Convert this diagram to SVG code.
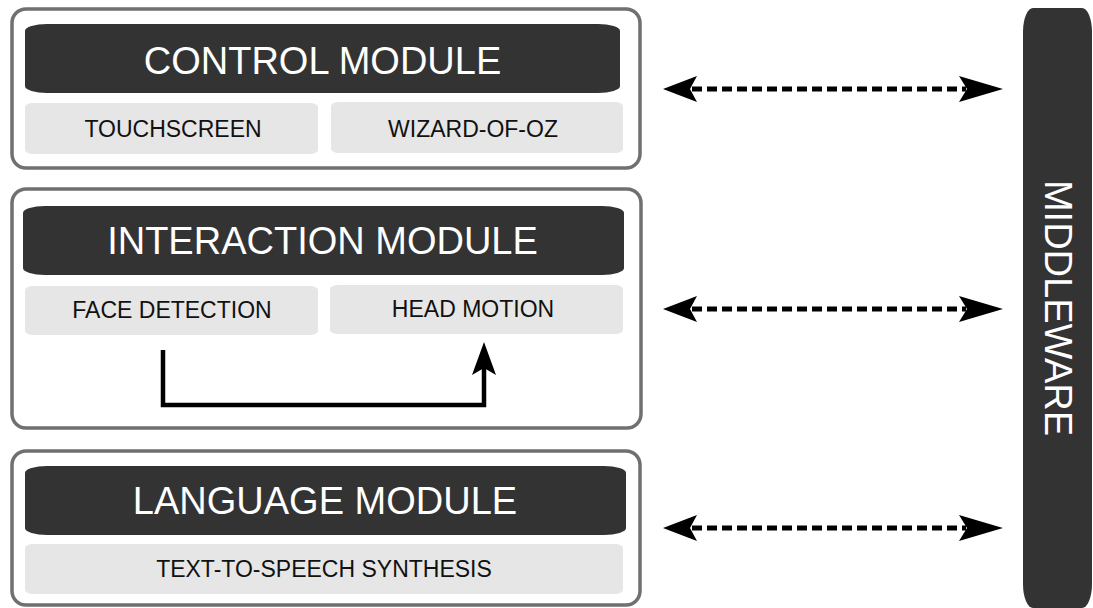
<svg xmlns="http://www.w3.org/2000/svg" width="1093" height="608" viewBox="0 0 1093 608">
<style>
.outer{fill:#fff;stroke:#707070;stroke-width:3.5}
.hdr{fill:#333}
.sub{fill:#e6e6e6}
.ht{font-family:"Liberation Sans",Arial,sans-serif;font-size:38px;fill:#fff;text-anchor:middle}
.st{font-family:"Liberation Sans",Arial,sans-serif;font-size:23px;fill:#111;text-anchor:middle}
.dash{fill:none;stroke:#000;stroke-width:5;stroke-dasharray:10 5}
.head{fill:#000}
</style>
<rect width="1093" height="608" fill="#fff"/>
<g id="control">
<rect class="outer" x="12" y="9" width="628" height="159" rx="14"/>
<rect class="hdr" x="25" y="24" width="595" height="69" rx="22" ry="7"/>
<text class="ht" x="322.5" y="74">CONTROL MODULE</text>
<rect class="sub" x="25" y="103" width="293" height="51" rx="8" ry="4"/>
<text class="st" x="173" y="137">TOUCHSCREEN</text>
<rect class="sub" x="331" y="102" width="292" height="51" rx="8" ry="4"/>
<text class="st" x="473" y="137">WIZARD-OF-OZ</text>
</g>
<g id="interaction">
<rect class="outer" x="12" y="189" width="629" height="239" rx="14"/>
<rect class="hdr" x="23" y="206" width="601" height="69" rx="22" ry="7"/>
<text class="ht" x="322.5" y="254">INTERACTION MODULE</text>
<rect class="sub" x="25" y="286" width="293" height="49" rx="8" ry="4"/>
<text class="st" x="172" y="318">FACE DETECTION</text>
<rect class="sub" x="330" y="285" width="293" height="49" rx="8" ry="4"/>
<text class="st" x="473" y="317">HEAD MOTION</text>
</g>
<g id="language">
<rect class="outer" x="12" y="451" width="628" height="154" rx="14"/>
<rect class="hdr" x="25" y="466" width="601" height="69" rx="22" ry="7"/>
<text class="ht" x="325" y="514">LANGUAGE MODULE</text>
<rect class="sub" x="25" y="544" width="598" height="50" rx="8" ry="4"/>
<text class="st" x="324" y="577">TEXT-TO-SPEECH SYNTHESIS</text>
</g>
<g id="middleware">
<rect class="hdr" x="1023" y="8" width="69" height="600" rx="10" ry="24"/>
<text class="ht" transform="translate(1045,308) rotate(90)" x="0" y="0">MIDDLEWARE</text>
</g>
<g id="connectors">
<g id="arrow-control">
<path class="dash" d="M692 89 H966"/>
<path class="head" d="M663 89 L697 76 L690 89 L697 102 Z"/>
<path class="head" d="M1003 89 L959 76 L967 89 L959 102 Z"/>
</g>
<g id="arrow-interaction">
<path class="dash" d="M692 309 H966"/>
<path class="head" d="M663 309 L697 296 L690 309 L697 322 Z"/>
<path class="head" d="M1003 309 L959 296 L967 309 L959 322 Z"/>
</g>
<g id="arrow-language">
<path class="dash" d="M692 528 H966"/>
<path class="head" d="M663 528 L697 515 L690 528 L697 541 Z"/>
<path class="head" d="M1003 528 L959 515 L967 528 L959 541 Z"/>
</g>
<g id="face-to-head">
<path d="M163 350 V405 H484 V368" fill="none" stroke="#000" stroke-width="4.5"/>
<path class="head" d="M484 342 L496 375 L484 368 L472 375 Z"/>
</g>
</g>
</svg>
